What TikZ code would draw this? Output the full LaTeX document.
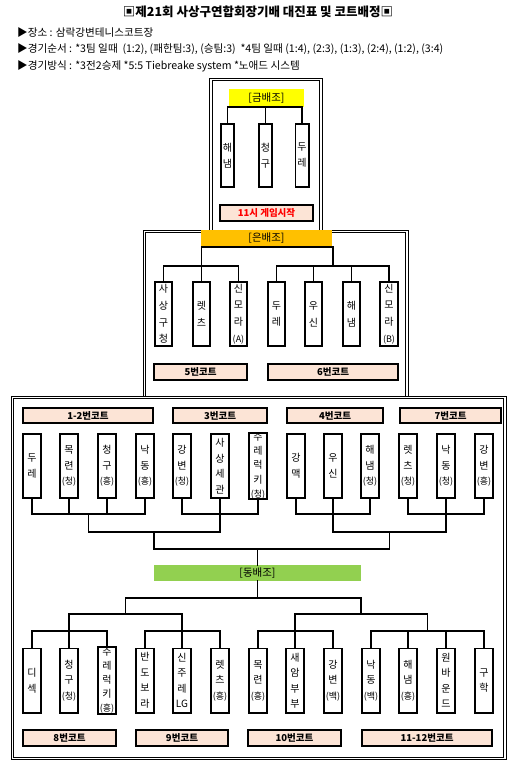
\documentclass[tikz,border=0pt]{standalone}
\usepackage{fontspec}
\setmainfont{Noto Sans CJK KR}
\definecolor{peach}{HTML}{FCE4D6}
\definecolor{goldc}{HTML}{FFFF00}
\definecolor{silverc}{HTML}{FFC000}
\definecolor{bronzec}{HTML}{92D050}
\newcommand\pn[1]{{\fontsize{9}{9}\selectfont(#1)}}
\begin{document}
\begin{tikzpicture}[x=1pt,y=-1pt,
  fl/.style={line width=0.9pt},
  conn/.style={line width=1.7pt, line cap=rect},
  pbox/.style={draw, line width=1.8pt, fill=white, minimum width=17.7pt, minimum height=64.2pt, inner sep=0pt, align=center, font=\fontsize{10}{15.5}\selectfont},
  gbox/.style={pbox, minimum width=13.2pt, minimum height=63.2pt, font=\fontsize{10}{16}\selectfont},
  sbox/.style={pbox, font=\fontsize{10}{16.7}\selectfont},
  fbox/.style={pbox, font=\fontsize{10}{14.2}\selectfont},
  court/.style={draw, line width=1.8pt, fill=peach, inner sep=0pt, font=\fontsize{9.5}{10}\selectfont\bfseries},
  grp/.style={inner sep=0pt, font=\fontsize{10.5}{11}\selectfont},
  hdr/.style={anchor=west, inner sep=0pt, font=\fontsize{10.6}{12}\selectfont}]
\useasboundingbox (0,0) rectangle (516,770);
% header
\node[inner sep=0pt, font=\fontsize{12.5}{14}\selectfont\bfseries] (title) at (258,12) {▣제21회 사상구연합회장기배 대진표 및 코트배정▣};
\node[hdr] (h1) at (17,33) {▶장소 : 삼락강변테니스코트장};
\node[hdr] (h2) at (17,49) {▶경기순서 : *3팀 일때~~(1:2), (패한팀:3), (승팀:3)~~*4팀 일때 (1:4), (2:3), (1:3), (2:4), (1:2), (3:4)};
\node[hdr] (h3) at (17,66) {▶경기방식 : *3전2승제 *5:5 Tiebreake system *노애드 시스템};
% frames (double lines)
\draw[fl] (209.5,231) |- (322,78) -- (322,231);
\draw[fl] (212,231) |- (319.5,80.5) -- (319.5,231);
\draw[fl] (143,396.7) |- (408,230) -- (408,396.7);
\draw[fl] (145.3,396.7) |- (405.7,232.3) -- (405.7,396.7);
\draw[fl] (11.7,396.7) rectangle (506,759.5);
\draw[fl] (13.9,398.9) rectangle (503.7,757.3);
% gold
\node[grp, fill=goldc, minimum width=75pt, minimum height=18pt] (Lg) at (266.5,98) {[금배조]};
\node[gbox] (g1) at (227.5,155.5) {해\\냄};
\node[gbox] (g2) at (265.5,155.5) {청\\구};
\node[gbox] (g3) at (302,155.5) {두\\레};
\node[court, text=red, minimum width=93.2pt, minimum height=16.2pt] (start) at (266.5,213) {11시 게임시작};
% silver
\node[grp, fill=silverc, minimum width=131pt, minimum height=17pt] (Ls) at (266.5,238.5) {[은배조]};
\node[sbox] (s1) at (163.5,314) {사\\상\\구\\청};
\node[sbox] (s2) at (201.5,314) {렛\\츠};
\node[sbox] (s3) at (238.5,314) {신\\모\\라\\\pn{A}};
\node[sbox] (s4) at (276.5,314) {두\\레};
\node[sbox] (s5) at (313.5,314) {우\\신};
\node[sbox] (s6) at (351.5,314) {해\\냄};
\node[sbox] (s7) at (389,314) {신\\모\\라\\\pn{B}};
\node[court, minimum width=93.2pt, minimum height=16.2pt] (c5) at (200.5,372) {5번코트};
\node[court, minimum width=130.2pt, minimum height=16.2pt] (c6) at (333,372) {6번코트};
% bottom frame: courts top
\node[court, minimum width=130.2pt, minimum height=15.2pt] (c12) at (88,415.5) {1-2번코트};
\node[court, minimum width=94.2pt, minimum height=15.2pt] (c3) at (220,415.5) {3번코트};
\node[court, minimum width=96.2pt, minimum height=15.2pt] (c4) at (335,415.5) {4번코트};
\node[court, minimum width=101.2pt, minimum height=15.2pt] (c7) at (450.5,415.5) {7번코트};
% top row
\node[pbox] (t1) at (32,466) {두\\레};
\node[pbox] (t2) at (69,466) {목\\련\\\pn{청}};
\node[pbox] (t3) at (107,466) {청\\구\\\pn{흥}};
\node[pbox] (t4) at (145,466) {낙\\동\\\pn{흥}};
\node[pbox] (t5) at (182,466) {강\\변\\\pn{청}};
\node[pbox] (t6) at (220,466) {사\\상\\세\\관};
\node[fbox] (t7) at (258,466) {주\\레\\럭\\키\\\pn{청}};
\node[pbox] (t8) at (296,466) {강\\맥};
\node[pbox] (t9) at (333,466) {우\\신};
\node[pbox] (t10) at (370,466) {해\\냄\\\pn{청}};
\node[pbox] (t11) at (408,466) {렛\\츠\\\pn{청}};
\node[pbox] (t12) at (446,466) {낙\\동\\\pn{청}};
\node[pbox] (t13) at (484,466) {강\\변\\\pn{흥}};
% bronze label
\node[grp, fill=bronzec, minimum width=207pt, minimum height=16pt] (Ld) at (257.5,573) {[동배조]};
% bottom row
\node[pbox] (b1) at (32,680.5) {디\\섹};
\node[pbox] (b2) at (69,680.5) {청\\구\\\pn{청}};
\node[fbox] (b3) at (107,680.5) {주\\레\\럭\\키\\\pn{흥}};
\node[pbox] (b4) at (145,680.5) {반\\도\\보\\라};
\node[pbox] (b5) at (182,680.5) {신\\주\\레\\LG};
\node[pbox] (b6) at (220,680.5) {렛\\츠\\\pn{흥}};
\node[pbox] (b7) at (258,680.5) {목\\련\\\pn{흥}};
\node[pbox] (b8) at (295,680.5) {새\\암\\부\\부};
\node[pbox] (b9) at (333,680.5) {강\\변\\\pn{백}};
\node[pbox] (b10) at (371,680.5) {낙\\동\\\pn{백}};
\node[pbox] (b11) at (408,680.5) {해\\냄\\\pn{흥}};
\node[pbox] (b12) at (446,680.5) {원\\바\\운\\드};
\node[pbox] (b13) at (484,680.5) {구\\학};
\node[court, minimum width=93.2pt, minimum height=16.2pt] (c8) at (69.5,738) {8번코트};
\node[court, minimum width=92.2pt, minimum height=16.2pt] (c9) at (182,738) {9번코트};
\node[court, minimum width=93.2pt, minimum height=16.2pt] (c10) at (294.5,738) {10번코트};
\node[court, minimum width=130.2pt, minimum height=16.2pt] (c1112) at (427,738) {11-12번코트};
% gold connectors
\draw[conn] (g1.north) -- (g1.north |- Lg.south) -- (g3.north |- Lg.south) -- (g3.north);
\draw[conn] (g2.north) -- (g2.north |- Lg.south);
% silver connectors
\coordinate (sL) at (201.5,266);
\coordinate (sR) at (332.75,266);
\draw[conn] (sL) -- (sL |- Ls.south) -- (sR |- Ls.south) -- (sR);
\draw[conn] (s1.north) -- (s1.north |- sL) -- (s3.north |- sL) -- (s3.north);
\draw[conn] (s2.north) -- (s2.north |- sL);
\draw[conn] (s4.north) -- (s4.north |- sR) -- (s7.north |- sR) -- (s7.north);
\draw[conn] (s5.north) -- (s5.north |- sR);
\draw[conn] (s6.north) -- (s6.north |- sR);
% top row connectors
\coordinate (tA) at (88.5,514);
\coordinate (tB) at (220,514);
\coordinate (tC) at (333,514);
\coordinate (tD) at (446,514);
\coordinate (tAB) at (154,532);
\coordinate (tCD) at (389.5,532);
\coordinate (tM) at (257.5,549);
\draw[conn] (t1.south) -- (t1.south |- tA) -- (t4.south |- tA) -- (t4.south);
\draw[conn] (t2.south) -- (t2.south |- tA);
\draw[conn] (t3.south) -- (t3.south |- tA);
\draw[conn] (t5.south) -- (t5.south |- tB) -- (t7.south |- tB) -- (t7.south);
\draw[conn] (t6.south) -- (t6.south |- tB);
\draw[conn] (t8.south) -- (t8.south |- tC) -- (t10.south |- tC) -- (t10.south);
\draw[conn] (t9.south) -- (t9.south |- tC);
\draw[conn] (t11.south) -- (t11.south |- tD) -- (t13.south |- tD) -- (t13.south);
\draw[conn] (t12.south) -- (t12.south |- tD);
\draw[conn] (tA) -- (tA |- tAB) -- (tB |- tAB) -- (tB);
\draw[conn] (tC) -- (tC |- tAB) -- (tD |- tAB) -- (tD);
\draw[conn] (tAB) -- (tAB |- tM) -- (tCD |- tM) -- (tCD);
\draw[conn] (Ld.north) -- (Ld.north |- tM);
% bottom connectors
\coordinate (bM) at (257.5,598);
\coordinate (bL) at (125.5,614);
\coordinate (bR) at (361,614);
\coordinate (bE) at (69,631);
\coordinate (bF) at (182,631);
\coordinate (bG) at (295,631);
\coordinate (bH) at (427.5,631);
\draw[conn] (Ld.south) -- (bM);
\draw[conn] (bL) -- (bL |- bM) -- (bR |- bM) -- (bR);
\draw[conn] (bE) -- (bE |- bL) -- (bF |- bL) -- (bF);
\draw[conn] (bG) -- (bG |- bR) -- (bH |- bR) -- (bH);
\draw[conn] (b1.north) -- (b1.north |- bE) -- (b3.north |- bE) -- (b3.north);
\draw[conn] (b2.north) -- (b2.north |- bE);
\draw[conn] (b4.north) -- (b4.north |- bF) -- (b6.north |- bF) -- (b6.north);
\draw[conn] (b5.north) -- (b5.north |- bF);
\draw[conn] (b7.north) -- (b7.north |- bG) -- (b9.north |- bG) -- (b9.north);
\draw[conn] (b8.north) -- (b8.north |- bG);
\draw[conn] (b10.north) -- (b10.north |- bH) -- (b13.north |- bH) -- (b13.north);
\draw[conn] (b11.north) -- (b11.north |- bH);
\draw[conn] (b12.north) -- (b12.north |- bH);
\end{tikzpicture}
\end{document}
